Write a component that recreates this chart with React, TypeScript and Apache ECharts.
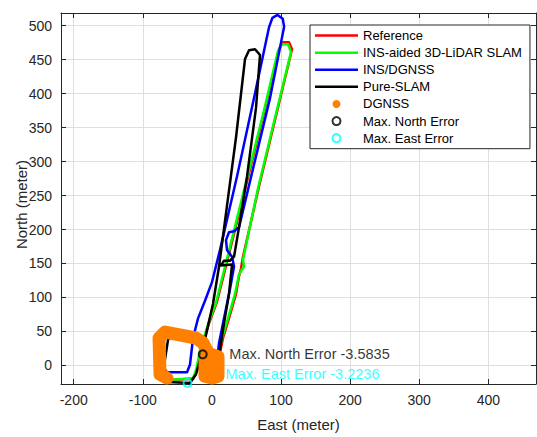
import React, { useEffect, useRef } from 'react';
import * as echarts from 'echarts';

// ---- Data (East, North in meters) ----
const seriesNames = ['Reference', 'INS-aided 3D-LiDAR SLAM', 'INS/DGNSS', 'Pure-SLAM', 'DGNSS', 'Max. North Error', 'Max. East Error'];
const seriesColors = ['#ff0000', '#00ff00', '#0000ff', '#000000', '#ff8000', '#000000', '#00ffff'];

const referencePath = [
  [3.0, -7.2], [-2.7, 18.7], [-10.0, 36.0], [-31.7, 46.1], [-63.5, 47.6], [-72.2, 38.9], [-73.7, -13.0],
  [-63.5, -21.6], [-27.3, -20.2], [-21.6, -7.2], [-15.8, 21.6], [-4.2, 62.0], [7.4, 93.7], [26.2, 170.0],
  [50.8, 270.9], [75.4, 371.8], [97.1, 465.4], [102.9, 475.5], [111.6, 475.5], [115.9, 465.4], [92.8, 367.5],
  [68.2, 263.7], [45.0, 160.0], [42.1, 142.7], [39.2, 131.1], [34.9, 105.2], [24.7, 69.2], [16.1, 40.3],
  [10.3, 11.5], [5.9, -10.1],
];

const insAidedPath = [
  [1.6, -7.2], [-4.2, 18.7], [-11.4, 34.6], [-31.7, 44.7], [-63.5, 46.1], [-70.8, 37.5], [-72.2, -13.0],
  [-60.6, -21.6], [-27.3, -18.7], [-23.0, -7.2], [-17.2, 21.6], [-5.6, 60.5], [5.9, 92.2], [24.7, 168.6],
  [49.3, 269.5], [73.9, 368.9], [95.6, 462.6], [101.4, 472.7], [110.1, 472.7], [114.5, 461.1], [91.3, 364.6],
  [66.7, 260.8], [45.0, 155.6], [46.4, 145.5], [39.2, 134.0], [33.4, 105.2], [23.3, 69.2], [14.6, 40.3],
  [8.8, 11.5], [4.5, -10.1],
];

const insDgnssPath = [
  [3.0, -7.2], [-1.3, 18.7], [-10.0, 34.6], [-31.7, 43.2], [-57.7, 47.6], [-69.3, 40.3], [-72.2, 0.0],
  [-65.0, -10.1], [-36.0, -10.1], [-31.7, 1.4], [-27.3, 40.3], [-20.1, 69.2], [-10.0, 95.1], [0.1, 122.5],
  [11.7, 170.0], [36.3, 278.1], [62.4, 400.6], [82.5, 497.1], [87.5, 511.6], [95.0, 515.9], [102.5, 510.1],
  [104.5, 498.6], [84.1, 393.4], [59.5, 289.6], [39.2, 203.2], [32.0, 197.4], [24.7, 196.0], [20.4, 184.4],
  [21.8, 170.0], [29.1, 160.0], [32.0, 145.5], [26.2, 112.4], [17.5, 69.2], [10.3, 33.1], [5.9, -2.9],
];

const pureSlamPath = [
  [3.0, -7.2], [-1.3, 15.9], [-11.4, 37.5], [-38.9, 43.2], [-57.7, 44.7], [-63.5, 37.5], [-70.8, -10.1],
  [-63.5, -24.5], [-31.7, -25.9], [-23.0, -13.0], [-14.3, 18.7], [-7.1, 51.9], [1.6, 90.8], [10.3, 145.5],
  [21.8, 234.9], [34.9, 335.8], [47.9, 451.0], [53.7, 464.0], [62.4, 465.4], [69.6, 456.8], [63.8, 379.0],
  [50.8, 278.1], [39.2, 203.2], [32.0, 160.0], [26.2, 154.2], [17.5, 154.2], [13.2, 147.0], [29.1, 148.4],
  [24.7, 105.2], [17.5, 62.0], [13.2, 33.1], [8.8, 4.3],
];

const dgnssPath = [
  [-65.0, -18.7], [-75.1, -13.0], [-76.5, 40.3], [-67.9, 49.0], [-23.0, 40.3], [-12.9, 33.1], [-5.6, 18.7],
  [-10.0, 7.2], [-10.0, -15.9], [0.1, -18.7], [8.8, -15.9], [8.8, 13.0], [0.1, 15.9],
];

const maxNorthPoint = [[-13.3, 16.3]];
const maxEastPoint = [[-35.3, -25.9]];
const maxNorthText = 'Max. North Error -3.5835';
const maxEastText = 'Max. East Error -3.2236';

const xTickValues = [-200, -100, 0, 100, 200, 300, 400];
const yTickValues = [0, 50, 100, 150, 200, 250, 300, 350, 400, 450, 500];

const xTitle = 'East (meter)';
const yTitle = 'North (meter)';
const X_MIN = -218.4;
const X_MAX = 469.0;
const Y_MIN = -27.4;
const Y_MAX = 518.7;

const FONT = '"Liberation Sans", Arial, Helvetica, sans-serif';
const AXIS_COLOR = '#262626';
const GRID_COLOR = '#dfdfdf';

const lineIcon = 'path://M0,0H43V2.5H0Z';

export default function App() {
  const ref = useRef<HTMLDivElement>(null);

  useEffect(() => {
    if (!ref.current) return;
    const chart = echarts.init(ref.current, null, { renderer: 'svg' });

    const paths = [referencePath, insAidedPath, insDgnssPath, pureSlamPath];
    const lineSeries = paths.map((p, i) => ({
      name: seriesNames[i],
      type: 'line',
      data: p,
      symbol: 'none',
      showSymbol: false,
      silent: true,
      lineStyle: { color: seriesColors[i], width: 2.5, join: 'round', cap: 'round' },
      itemStyle: { color: seriesColors[i] },
      z: 2,
    }));

    const baseAxisLine = { show: true, onZero: false, lineStyle: { color: AXIS_COLOR, width: 1 } };
    const xTick = { show: true, inside: true, length: 5, customValues: xTickValues, lineStyle: { color: AXIS_COLOR, width: 1 } };
    const yTick = { show: true, inside: true, length: 5, customValues: yTickValues, lineStyle: { color: AXIS_COLOR, width: 1 } };

    const option: any = {
      animation: false,
      backgroundColor: '#ffffff',
      grid: { left: 61, top: 13, right: 1, bottom: 45, containLabel: false },
      xAxis: [
        {
          type: 'value', position: 'bottom', min: X_MIN, max: X_MAX,
          name: xTitle, nameLocation: 'middle', nameGap: 33, nameMoveOverlap: false,
          nameTextStyle: { color: AXIS_COLOR, fontSize: 15, fontFamily: FONT },
          axisLine: baseAxisLine, axisTick: xTick,
          axisLabel: {
            show: true, margin: 9, color: AXIS_COLOR, fontSize: 14, fontFamily: FONT,
            customValues: xTickValues,
          },
          splitLine: { show: true, lineStyle: { color: GRID_COLOR, width: 1 } },
        },
        {
          type: 'value', position: 'top', min: X_MIN, max: X_MAX,
          axisLine: baseAxisLine, axisTick: xTick,
          axisLabel: { show: false }, splitLine: { show: false },
        },
      ],
      yAxis: [
        {
          type: 'value', position: 'left', min: Y_MIN, max: Y_MAX,
          name: yTitle, nameLocation: 'middle', nameGap: 32, nameRotate: 90, nameMoveOverlap: false,
          nameTextStyle: { color: AXIS_COLOR, fontSize: 15, fontFamily: FONT, padding: [0, 12, 0, 0] },
          axisLine: baseAxisLine, axisTick: yTick,
          axisLabel: {
            show: true, margin: 9, color: AXIS_COLOR, fontSize: 14, fontFamily: FONT,
            customValues: yTickValues,
          },
          splitLine: { show: true, lineStyle: { color: GRID_COLOR, width: 1 } },
        },
        {
          type: 'value', position: 'right', min: Y_MIN, max: Y_MAX,
          axisLine: baseAxisLine, axisTick: yTick,
          axisLabel: { show: false }, splitLine: { show: false },
        },
      ],
      legend: {
        orient: 'vertical', left: 310, top: 25, padding: [2, 8, 2, 5], itemGap: 0,
        itemWidth: 43, itemHeight: 8, selectedMode: false,
        backgroundColor: '#ffffff', borderColor: AXIS_COLOR, borderWidth: 1, borderRadius: 0,
        textStyle: { fontSize: 13, fontFamily: FONT, color: '#000000', lineHeight: 17.1 },
        data: [
          { name: seriesNames[0], icon: lineIcon, itemStyle: { color: seriesColors[0], borderWidth: 0 } },
          { name: seriesNames[1], icon: lineIcon, itemStyle: { color: seriesColors[1], borderWidth: 0 } },
          { name: seriesNames[2], icon: lineIcon, itemStyle: { color: seriesColors[2], borderWidth: 0 } },
          { name: seriesNames[3], icon: lineIcon, itemStyle: { color: seriesColors[3], borderWidth: 0 } },
          { name: seriesNames[4], icon: 'circle', itemStyle: { color: seriesColors[4], borderWidth: 0 } },
          { name: seriesNames[5], icon: 'circle', itemStyle: { color: 'rgba(0,0,0,0)', borderColor: seriesColors[5], borderWidth: 2 } },
          { name: seriesNames[6], icon: 'circle', itemStyle: { color: 'rgba(0,0,0,0)', borderColor: seriesColors[6], borderWidth: 2 } },
        ],
      },
      series: [
        ...lineSeries,
        {
          name: seriesNames[4],
          type: 'line',
          data: dgnssPath,
          symbol: 'none',
          showSymbol: false,
          silent: true,
          lineStyle: { color: seriesColors[4], width: 13, join: 'round', cap: 'round' },
          itemStyle: { color: seriesColors[4] },
          z: 2,
        },
        {
          name: seriesNames[5],
          type: 'scatter',
          data: maxNorthPoint,
          symbol: 'circle',
          symbolSize: 8,
          silent: true,
          itemStyle: { color: 'rgba(0,0,0,0)', borderColor: seriesColors[5], borderWidth: 2 },
          label: {
            show: true, position: 'right', distance: 21.6, formatter: maxNorthText,
            color: seriesColors[5], fontSize: 14.5, fontFamily: FONT,
          },
          z: 3,
        },
        {
          name: seriesNames[6],
          type: 'scatter',
          data: maxEastPoint,
          symbol: 'circle',
          symbolSize: 8,
          silent: true,
          itemStyle: { color: 'rgba(0,0,0,0)', borderColor: seriesColors[6], borderWidth: 2 },
          label: {
            show: true, position: 'right', distance: 33, offset: [0, -9], formatter: maxEastText,
            color: seriesColors[6], fontSize: 14.5, fontFamily: FONT,
          },
          z: 3,
        },
      ],
    };

    chart.setOption(option);
    return () => chart.dispose();
  }, []);

  return (
    <div
      ref={ref}
      style={{ position: 'absolute', left: 0, top: 0, width: 537, height: 437, background: '#ffffff' }}
    />
  );
}
